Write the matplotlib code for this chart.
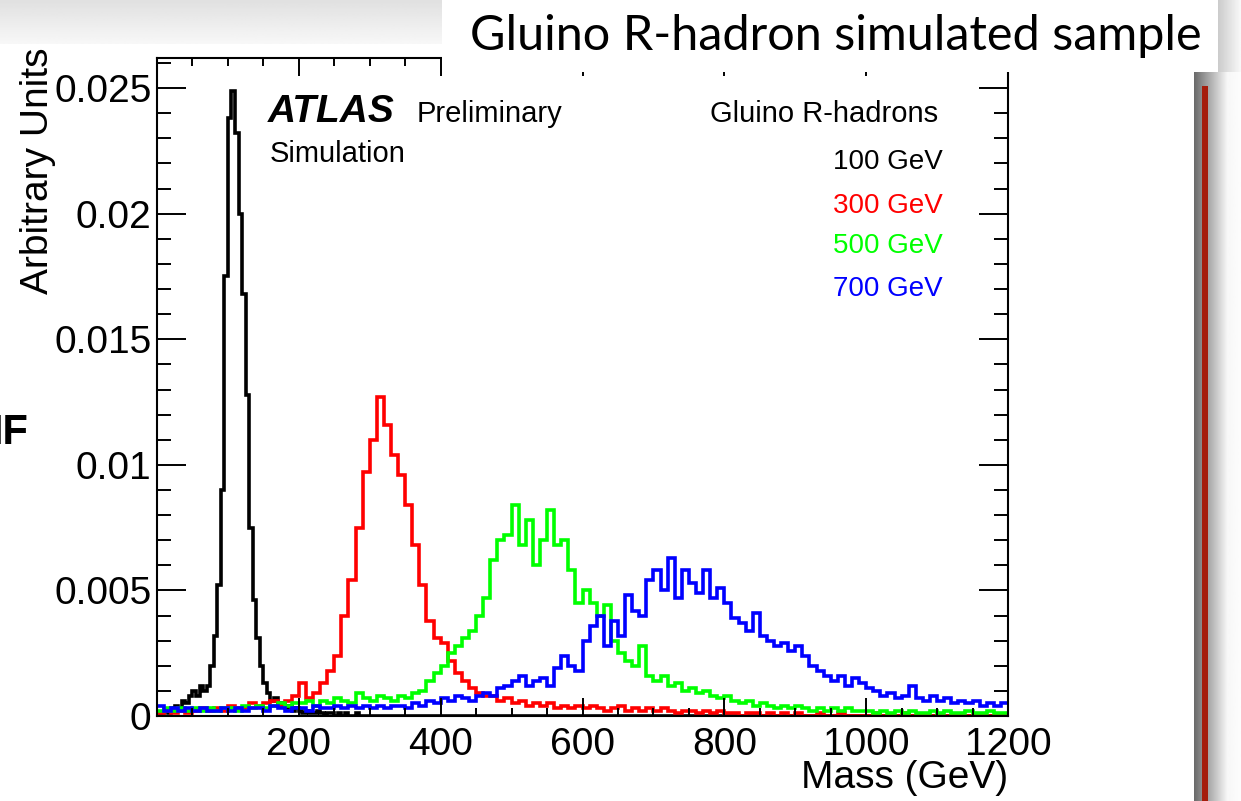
import numpy as np
import matplotlib.pyplot as plt
from matplotlib.patches import Rectangle

W, H = 1241, 801

# ---- histogram contents (arbitrary units) ----
# 100 GeV sample: 5 GeV bins from 0 to 300, then empty up to 1200
black_edges = [0, 5, 10, 15, 20, 25, 30, 35, 40, 45, 50, 55, 60, 65, 70, 75, 80, 85, 90, 95,
               100, 105, 110, 115, 120, 125, 130, 135, 140, 145, 150, 155, 160, 165, 170, 175,
               180, 185, 190, 195, 200, 205, 210, 215, 220, 225, 230, 235, 240, 245, 250, 255,
               260, 265, 270, 275, 280, 285, 290, 295, 300, 1200]
black_vals = [0.0000, 0.0001, 0.0002, 0.0001, 0.0003, 0.0004, 0.0003, 0.0006, 0.0005, 0.0008,
              0.0010, 0.0008, 0.0012, 0.0010, 0.0012, 0.0020, 0.0032, 0.0052, 0.0090, 0.0175,
              0.0238, 0.0249, 0.0232, 0.0200, 0.0168, 0.0128, 0.0075, 0.0046, 0.0031, 0.0020,
              0.0013, 0.0009, 0.0006, 0.0007, 0.0004, 0.0005, 0.0003, 0.0004, 0.0002, 0.0003,
              0.0002, 0.0001, 0.0002, 0.0001, 0.0001, 0.0002, 0.0001, 0.0000, 0.0001, 0.0001,
              0.0000, 0.0001, 0.0000, 0.0001, 0.0000, 0.0000, 0.0001, 0.0000, 0.0000, 0.0000,
              0.0000]

# 300 / 500 / 700 GeV samples: 10 GeV bins from 0 to 1200
mass_edges = np.arange(0, 1210, 10)
red_vals = [0.0001, 0.0002, 0.0001, 0.0002, 0.0001, 0.0002, 0.0003, 0.0002, 0.0003, 0.0002,
            0.0004, 0.0003, 0.0003, 0.0005, 0.0004, 0.0005, 0.0006, 0.0004, 0.0006, 0.0008,
            0.0013, 0.0007, 0.0009, 0.0013, 0.0018, 0.0024, 0.0040, 0.0054, 0.0075, 0.0097,
            0.0110, 0.0127, 0.0116, 0.0104, 0.0096, 0.0084, 0.0068, 0.0052, 0.0038, 0.0031,
            0.0029, 0.0022, 0.0017, 0.0014, 0.0011, 0.0009, 0.0008, 0.0008, 0.0006, 0.0007,
            0.0005, 0.0006, 0.0004, 0.0005, 0.0004, 0.0005, 0.0003, 0.0004, 0.0003, 0.0004,
            0.0003, 0.0004, 0.0003, 0.0002, 0.0003, 0.0004, 0.0002, 0.0003, 0.0002, 0.0003,
            0.0002, 0.0003, 0.0002, 0.0001, 0.0002, 0.0002, 0.0001, 0.0002, 0.0001, 0.0002,
            0.0001, 0.0001, 0.0000, 0.0001, 0.0001, 0.0000, 0.0001, 0.0000, 0.0001, 0.0000,
            0.0001, 0.0000, 0.0000, 0.0001, 0.0000, 0.0000, 0.0001, 0.0000, 0.0000, 0.0000,
            0.0000, 0.0001, 0.0000, 0.0000, 0.0000, 0.0001, 0.0000, 0.0000, 0.0000, 0.0000,
            0.0000, 0.0000, 0.0000, 0.0000, 0.0000, 0.0000, 0.0000, 0.0000, 0.0000, 0.0000]
green_vals = [0.0002, 0.0003, 0.0002, 0.0003, 0.0002, 0.0003, 0.0002, 0.0003, 0.0002, 0.0003,
              0.0003, 0.0002, 0.0004, 0.0003, 0.0004, 0.0003, 0.0004, 0.0005, 0.0004, 0.0005,
              0.0005, 0.0006, 0.0004, 0.0006, 0.0005, 0.0007, 0.0006, 0.0005, 0.0009, 0.0007,
              0.0006, 0.0008, 0.0007, 0.0006, 0.0008, 0.0007, 0.0009, 0.0010, 0.0014, 0.0017,
              0.0020, 0.0025, 0.0028, 0.0031, 0.0034, 0.0040, 0.0047, 0.0062, 0.0070, 0.0072,
              0.0084, 0.0068, 0.0078, 0.0060, 0.0070, 0.0082, 0.0068, 0.0070, 0.0058, 0.0045,
              0.0050, 0.0045, 0.0040, 0.0044, 0.0030, 0.0025, 0.0022, 0.0020, 0.0028, 0.0016,
              0.0014, 0.0016, 0.0012, 0.0013, 0.0010, 0.0011, 0.0009, 0.0010, 0.0008, 0.0007,
              0.0008, 0.0006, 0.0005, 0.0006, 0.0004, 0.0005, 0.0004, 0.0003, 0.0004, 0.0003,
              0.0004, 0.0003, 0.0002, 0.0003, 0.0002, 0.0003, 0.0002, 0.0003, 0.0002, 0.0002,
              0.0002, 0.0001, 0.0002, 0.0001, 0.0002, 0.0001, 0.0002, 0.0001, 0.0001, 0.0002,
              0.0001, 0.0002, 0.0001, 0.0001, 0.0002, 0.0001, 0.0001, 0.0002, 0.0001, 0.0001]
blue_vals = [0.0004, 0.0002, 0.0003, 0.0002, 0.0003, 0.0002, 0.0003, 0.0002, 0.0002, 0.0003,
             0.0002, 0.0003, 0.0002, 0.0003, 0.0003, 0.0002, 0.0004, 0.0003, 0.0002, 0.0003,
             0.0003, 0.0002, 0.0004, 0.0003, 0.0003, 0.0004, 0.0003, 0.0004, 0.0003, 0.0004,
             0.0003, 0.0004, 0.0003, 0.0004, 0.0004, 0.0003, 0.0005, 0.0004, 0.0006, 0.0005,
             0.0007, 0.0006, 0.0008, 0.0007, 0.0006, 0.0008, 0.0009, 0.0008, 0.0011, 0.0012,
             0.0014, 0.0016, 0.0012, 0.0014, 0.0015, 0.0012, 0.0019, 0.0024, 0.0020, 0.0018,
             0.0030, 0.0036, 0.0040, 0.0028, 0.0038, 0.0032, 0.0048, 0.0042, 0.0040, 0.0054,
             0.0058, 0.0050, 0.0063, 0.0047, 0.0058, 0.0053, 0.0049, 0.0058, 0.0047, 0.0051,
             0.0045, 0.0039, 0.0037, 0.0034, 0.0041, 0.0032, 0.0030, 0.0028, 0.0029, 0.0026,
             0.0028, 0.0024, 0.0020, 0.0018, 0.0016, 0.0014, 0.0016, 0.0012, 0.0015, 0.0013,
             0.0011, 0.0010, 0.0008, 0.0009, 0.0007, 0.0008, 0.0012, 0.0007, 0.0006, 0.0008,
             0.0006, 0.0007, 0.0005, 0.0006, 0.0005, 0.0006, 0.0004, 0.0005, 0.0004, 0.0005]

legend_labels = ['100 GeV', '300 GeV', '500 GeV', '700 GeV']
colors = ['#000000', '#ff0000', '#00ff00', '#0000ff']

xticks = [0, 200, 400, 600, 800, 1000, 1200]
xtick_labels = ['', '200', '400', '600', '800', '1000', '1200']
yticks = [0, 0.005, 0.01, 0.015, 0.02, 0.025]
ytick_labels = ['0', '0.005', '0.01', '0.015', '0.02', '0.025']

plt.rcParams['font.family'] = ['Liberation Sans', 'DejaVu Sans']

fig = plt.figure(figsize=(W / 100, H / 100), dpi=100)
fig.patch.set_facecolor('white')

# axes box in pixel terms of the slide
ax = fig.add_axes([157 / W, (H - 716) / H, (1008 - 157) / W, (716 - 58) / H])

all_edges = [black_edges, mass_edges, mass_edges, mass_edges]
all_vals = [black_vals, red_vals, green_vals, blue_vals]
for edges, vals, c in zip(all_edges, all_vals, colors):
    ax.stairs(vals, edges, color=c, lw=2.6, baseline=None)

ax.set_xlim(0, 1200)
ax.set_ylim(0, 0.0262)
ax.set_xticks(xticks)
ax.set_xticklabels(xtick_labels)
ax.set_yticks(yticks)
ax.set_yticklabels(ytick_labels)
ax.set_xticks(np.arange(0, 1201, 50), minor=True)
ax.set_yticks(np.arange(0, 0.0262, 0.001), minor=True)
ax.tick_params(axis='both', which='both', direction='in', top=True, right=True,
               labelsize=28, width=1.4, color='black')
ax.tick_params(axis='x', which='major', length=13, pad=8)
ax.tick_params(axis='x', which='minor', length=6)
ax.tick_params(axis='y', which='major', length=21, pad=4)
ax.tick_params(axis='y', which='minor', length=10)
for s in ax.spines.values():
    s.set_linewidth(1.5)

# axis titles, ROOT style (right / top aligned)
fig.text(1008 / W, 1 - 778 / H, 'Mass (GeV)', ha='right', va='center', fontsize=28)
fig.text(38 / W, 1 - 48 / H, 'Arbitrary Units', ha='center', va='top', rotation=90, fontsize=28)

# ATLAS label
fig.text(268 / W, 1 - 112 / H, 'ATLAS', fontsize=28, fontweight='bold', fontstyle='italic',
         va='center', ha='left')
fig.text(417 / W, 1 - 114 / H, 'Preliminary', fontsize=21, ha='left', va='center')
fig.text(270 / W, 1 - 154 / H, 'Simulation', fontsize=21, ha='left', va='center')

# legend block (text only, coloured)
fig.text(938 / W, 1 - 114 / H, 'Gluino R-hadrons', fontsize=21, ha='right', va='center')
leg_y = [162, 206, 246, 289]
for lab, c, yy in zip(legend_labels, colors, leg_y):
    fig.text(943 / W, 1 - yy / H, lab, fontsize=20, ha='right', va='center', color=c)

# slide decorations drawn on top in pixel coordinates
over = fig.add_axes([0, 0, 1, 1], zorder=5)
over.axis('off')
over.patch.set_alpha(0)

# grey band top left
grad = np.linspace(0.88, 0.97, 40).reshape(-1, 1)
over.imshow(grad, extent=[0, 442, 44, 0], cmap='gray', vmin=0, vmax=1, aspect='auto')
# white title box with soft shadow
over.imshow(np.linspace(0.80, 0.97, 20).reshape(1, -1), extent=[1218, 1241, 74, 0],
            cmap='gray', vmin=0, vmax=1, aspect='auto')
over.add_patch(Rectangle((442, 0), 776, 72, facecolor='white', edgecolor='none'))
over.text(836, 36, 'Gluino R-hadron simulated sample', family=['Lato', 'DejaVu Sans'],
          fontsize=35, ha='center', va='center', color='black')

# right side bar of the next slide element
over.imshow(np.linspace(0.42, 0.97, 40).reshape(1, -1), extent=[1194, 1228, H, 72],
            cmap='gray', vmin=0, vmax=1, aspect='auto')
over.imshow(np.linspace(0.97, 0.99, 10).reshape(1, -1), extent=[1228, 1241, H, 72],
            cmap='gray', vmin=0, vmax=1, aspect='auto')
over.add_patch(Rectangle((1202, 86), 6, H - 86, facecolor='#a51d0c', edgecolor='none'))

# cut-off text at the left edge (partly outside the slide, as in the reference)
over.text(28, 433, 'IF', fontsize=30, fontweight='bold', ha='right', va='center')

over.set_xlim(0, W)
over.set_ylim(H, 0)

fig.savefig('out.png', dpi=100)
